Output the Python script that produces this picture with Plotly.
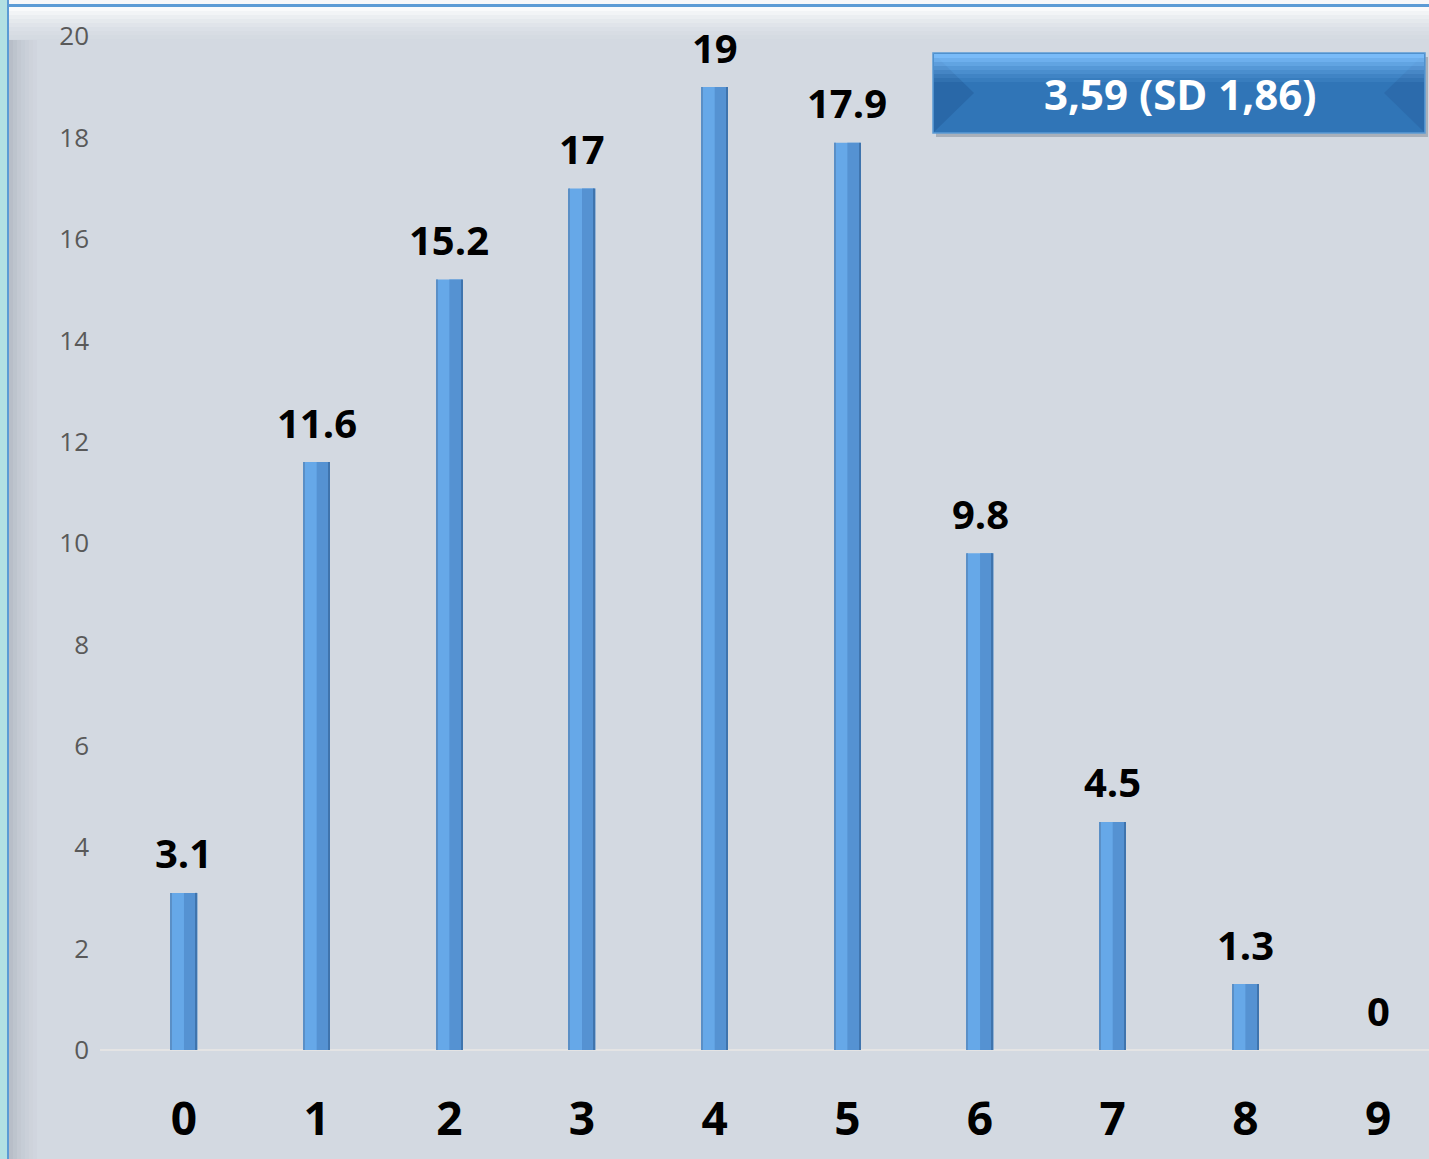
import plotly.graph_objects as go

categories = [0, 1, 2, 3, 4, 5, 6, 7, 8, 9]
values = [3.1, 11.6, 15.2, 17, 19, 17.9, 9.8, 4.5, 1.3, 0]
y_ticks = [0, 2, 4, 6, 8, 10, 12, 14, 16, 18, 20]
box_text = "3,59 (SD 1,86)"

W, H = 1429, 1159
FONT = "Open Sans"

def px(x):
    return x / W

def py(y):
    return 1 - y / H

fig = go.Figure()

# main bar body
fig.add_trace(go.Bar(
    x=categories, y=values, width=0.2,
    marker=dict(color="#66a8e8", line=dict(width=0)),
    hoverinfo="skip", showlegend=False,
))
# darker right facet
fig.add_trace(go.Bar(
    x=categories, y=values, width=0.09, offset=0.0,
    marker=dict(color="#5592d2", line=dict(width=0)),
    hoverinfo="skip", showlegend=False,
))
# thin dark edges
fig.add_trace(go.Bar(
    x=categories, y=values, width=0.012, offset=0.088,
    marker=dict(color="#3f74ad", line=dict(width=0)),
    hoverinfo="skip", showlegend=False,
))
fig.add_trace(go.Bar(
    x=categories, y=values, width=0.008, offset=-0.1,
    marker=dict(color="#5a8fc6", line=dict(width=0)),
    hoverinfo="skip", showlegend=False,
))

annotations = []
for c, v in zip(categories, values):
    annotations.append(dict(
        x=c, y=v, xref="x", yref="y", text=f"{v:g}", showarrow=False,
        yshift=40, yanchor="middle",
        font=dict(family=FONT, size=40, color="#000000", weight="bold"),
    ))

annotations.append(dict(
    x=px(1180), y=py(93), xref="paper", yref="paper", text=box_text,
    showarrow=False, xanchor="center", yanchor="middle",
    font=dict(family=FONT, size=42, color="#ffffff", weight="bold"),
))

def band(x0, x1, y0, y1, color, layer="below"):
    return dict(type="rect", xref="paper", yref="paper", x0=px(x0), x1=px(x1),
                y0=py(y1), y1=py(y0), fillcolor=color, line=dict(width=0), layer=layer)

shapes = [
    band(0, 7, 0, H, "#b2e0e3"),
    band(7, W, 0, 4, "#f6f7f9"),
    band(7, 9, 0, H, "#5b9bd5"),
    band(7, W, 4, 7, "#5b9bd5"),
]
# top bevel gradient
for i, a in enumerate([0.85, 0.7, 0.55, 0.42, 0.3, 0.2, 0.12, 0.06]):
    shapes.append(band(9, W, 7 + i * 4, 11 + i * 4, f"rgba(255,255,255,{a})"))
# left bevel gradient
for i, a in enumerate([0.45, 0.35, 0.27, 0.2, 0.14, 0.09, 0.05]):
    shapes.append(band(9 + i * 4, 13 + i * 4, 40, H, f"rgba(150,158,170,{a})"))

# box
shapes += [
    band(936, 1428, 57, 137, "rgba(90,100,115,0.35)", "above"),
    dict(type="rect", xref="paper", yref="paper", x0=px(933), x1=px(1425), y0=py(133), y1=py(53),
         fillcolor="#3075b7", line=dict(color="#5b9bd5", width=1.5)),
    dict(type="path", xref="paper", yref="paper",
         path=f"M {px(934)},{py(54)} L {px(974)},{py(93)} L {px(934)},{py(132)} Z",
         fillcolor="rgba(30,80,140,0.35)", line=dict(width=0)),
    dict(type="path", xref="paper", yref="paper",
         path=f"M {px(1424)},{py(54)} L {px(1384)},{py(93)} L {px(1424)},{py(132)} Z",
         fillcolor="rgba(30,80,140,0.25)", line=dict(width=0)),
]
for i, a in enumerate([0.9, 0.75, 0.6, 0.45, 0.32, 0.2, 0.1]):
    shapes.append(band(934, 1424, 54 + i * 4, 58 + i * 4, f"rgba(130,195,255,{a})", "above"))

fig.update_layout(
    template="none",
    width=W, height=H,
    autosize=False,
    margin=dict(l=0, r=0, t=0, b=0, pad=0),
    paper_bgcolor="#d3d9e1",
    plot_bgcolor="rgba(0,0,0,0)",
    barmode="overlay",
    showlegend=False,
    xaxis=dict(
        domain=[px(100), 1], range=[-0.633, 9.384], automargin=False,
        tickmode="array", tickvals=categories, ticktext=[str(c) for c in categories],
        tickfont=dict(family=FONT, size=46, color="#000000", weight="bold"),
        ticks="", showgrid=False, zeroline=False, showline=False,
        ticklabelstandoff=38, fixedrange=True,
    ),
    yaxis=dict(
        domain=[py(1050), py(11)], range=[0, 20.5], automargin=False,
        tickmode="array", tickvals=y_ticks, ticktext=[str(t) for t in y_ticks],
        tickfont=dict(family=FONT, size=26, color="#595959"),
        ticks="", showgrid=False, zeroline=True, zerolinecolor="#e4e4e4",
        zerolinewidth=2, showline=False, ticklabelstandoff=10, fixedrange=True,
    ),
    annotations=annotations,
    shapes=shapes,
)

fig.write_html("out.html")
